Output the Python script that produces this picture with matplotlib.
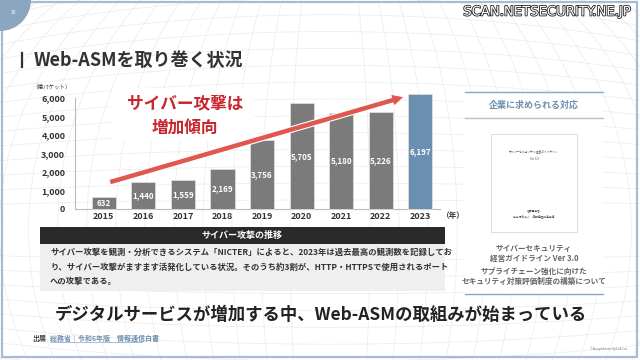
import matplotlib
matplotlib.use('Agg')
import matplotlib.pyplot as plt
import matplotlib.patches as mpatches
import matplotlib.patheffects as pe
import numpy as np

plt.rcParams['font.family'] = ['Noto Sans CJK JP', 'DejaVu Sans']

years = ['2015', '2016', '2017', '2018', '2019', '2020', '2021', '2022', '2023']
packets = [632, 1440, 1559, 2169, 3756, 5705, 5180, 5226, 6197]   # 億パケット
yticks = [0, 1000, 2000, 3000, 4000, 5000, 6000]

doc_lines = ['サイバーセキュリティ', '経営ガイドライン Ver 3.0',
             'サプライチェーン強化に向けた', 'セキュリティ対策評価制度の構築について']
note = ('サイバー攻撃を観測・分析できるシステム「NICTER」によると、2023年は過去最高の観測数を記録してお\n'
        'り、サイバー攻撃がますます活発化している状況。そのうち約3割が、HTTP・HTTPSで使用されるポート\n'
        'への攻撃である。')

W, H = 640, 360
fig = plt.figure(figsize=(6.4, 3.6), dpi=100)
fig.patch.set_facecolor('white')

# overlay in pixel coords for slide decoration
bg = fig.add_axes([0, 0, 1, 1])
bg.set_xlim(0, W)
bg.set_ylim(H, 0)
bg.axis('off')

# faint globe mesh in the background
for w in np.linspace(80, 1300, 22):
    bg.add_patch(mpatches.Ellipse((330, 230), w, 640, fill=False, ec='#ebebeb', lw=0.5))
for hh in np.linspace(60, 700, 20):
    bg.add_patch(mpatches.Ellipse((330, 230), 1300, hh, fill=False, ec='#ebebeb', lw=0.5))

# slide frame + page badge
bg.add_patch(mpatches.Rectangle((2, 2), 635, 355, fill=False, ec='#a7bcd2', lw=1.6))
bg.add_patch(mpatches.Wedge((0, 0), 31, 0, 90, fc='#8aa6c1', ec='none'))
bg.text(13, 12, '10', fontsize=3.5, color='white', ha='center', va='center')

# title
bg.plot([22, 22], [53, 67], color='#333333', lw=1.6)
bg.text(34, 60, 'Web-ASMを取り巻く状況', fontsize=13, fontweight='bold',
        color='#333333', va='center')

# watermark
bg.text(630, 12, 'SCAN.NETSECURITY.NE.JP', fontsize=9.5, color='white', ha='right',
        va='center', family='DejaVu Sans',
        path_effects=[pe.withStroke(linewidth=1.2, foreground='#222222')])

# caption band and note box
bg.add_patch(mpatches.Rectangle((40, 227), 405, 17, fc='#2a2a2a', ec='none'))
bg.text(242, 235.5, 'サイバー攻撃の推移', fontsize=6.5, fontweight='bold', color='white',
        ha='center', va='center')
bg.add_patch(mpatches.Rectangle((40, 244), 405, 47, fc='#efefef', ec='none'))
bg.text(50, 267, note, fontsize=6, fontweight='bold', color='#333333', va='center',
        linespacing=1.75)

# right panel
bg.add_patch(mpatches.Rectangle((465, 92), 138, 203, fc='white', ec='none'))
for yy, c in [(92, '#8aa6c1'), (118, '#bfbfbf'), (294, '#8aa6c1')]:
    bg.plot([465, 603], [yy, yy], color=c, lw=1)
bg.text(534, 105, '企業に求められる対応', fontsize=6.5, color='#6b8fb0', ha='center',
        va='center', fontweight='bold')
bg.add_patch(mpatches.Rectangle((491, 134), 86, 98, fc='white', ec='#d8d8d8', lw=0.6))
bg.text(534, 156, 'サイバーセキュリティ経営ガイドライン\nVer 3.0', fontsize=2, ha='center',
        va='center', color='#444444', linespacing=2)
bg.text(534, 214, '経済産業省\n独立行政法人　情報処理推進機構', fontsize=2, ha='center',
        va='center', color='#444444', linespacing=2)
for yy, t in zip([248, 258, 271, 281], doc_lines):
    bg.text(534, yy, t, fontsize=5.5, color='#666666', ha='center', va='center',
            fontweight='bold')

# bottom message and source
bg.text(321, 315, 'デジタルサービスが増加する中、Web-ASMの取組みが始まっている',
        fontsize=12.5, fontweight='bold', color='#222222', ha='center', va='center')
bg.text(32, 338, '出展', fontsize=5, color='#444444', va='center', fontweight='bold')
bg.text(50, 338, '総務省｜令和6年版　情報通信白書', fontsize=5, color='#6b8fb0',
        va='center', fontweight='bold')
bg.plot([50, 142], [342, 342], color='#6b8fb0', lw=0.4)
bg.text(628, 349, '©AsayaSecurityLab Inc.', fontsize=2.5, color='#777777', ha='right',
        va='center')

# bar chart
ax = fig.add_axes([75 / W, (H - 209) / H, (440 - 75) / W, (209 - 98) / H])
ax.set_facecolor('none')
x = np.arange(len(years))
colors = ['#7b7b7b'] * (len(years) - 1) + ['#6b8fb0']
ax.bar(x, packets, width=0.61, color=colors, edgecolor='#dddddd', linewidth=0.6,
       clip_on=False, zorder=3)
for xi, v in zip(x, packets):
    ax.text(xi, v / 2, f'{v:,}', ha='center', va='center', fontsize=5.8,
            color='white', fontweight='bold', zorder=4)
ax.set_xlim(-0.73, 8.5)
ax.set_ylim(0, 6000)
ax.set_yticks(yticks)
ax.set_yticklabels([f'{t:,}' for t in yticks])
ax.set_xticks(x)
ax.set_xticklabels(years)
ax.tick_params(length=0, labelsize=6.5, colors='#333333')
ax.tick_params(axis='x', pad=2)
ax.tick_params(axis='y', pad=7)
for lab in ax.get_xticklabels() + ax.get_yticklabels():
    lab.set_fontweight('bold')
for s in ['top', 'right']:
    ax.spines[s].set_visible(False)
for s in ['left', 'bottom']:
    ax.spines[s].set_color('#bbbbbb')
    ax.spines[s].set_linewidth(0.8)
ax.text(8.55, -0.02, '（年）', transform=ax.get_xaxis_transform(), fontsize=5.5,
        color='#333333', va='top', fontweight='bold')
ax.text(-1.82, 1.10, '（億パケット）', transform=ax.get_xaxis_transform(), fontsize=4,
        color='#333333', va='center')

# callout box and trend arrow on top
bg2 = fig.add_axes([0, 0, 1, 1])
bg2.set_xlim(0, W)
bg2.set_ylim(H, 0)
bg2.axis('off')
bg2.add_patch(mpatches.Rectangle((112, 88), 142, 52, fc='white', ec='none'))
bg2.text(185, 103, 'サイバー攻撃は', fontsize=12, fontweight='bold', color='#c8262c',
         ha='center', va='center')
bg2.text(185, 128, '増加傾向', fontsize=12, fontweight='bold', color='#c8262c',
         ha='center', va='center')
arrow = mpatches.FancyArrowPatch((107, 183), (407, 96),
                                 arrowstyle='simple,head_width=1.0,head_length=1.0,tail_width=0.45',
                                 mutation_scale=9, fc='#e0574f', ec='white', lw=0.8)
bg2.add_patch(arrow)

fig.savefig('out.png', dpi=100, facecolor='white')
